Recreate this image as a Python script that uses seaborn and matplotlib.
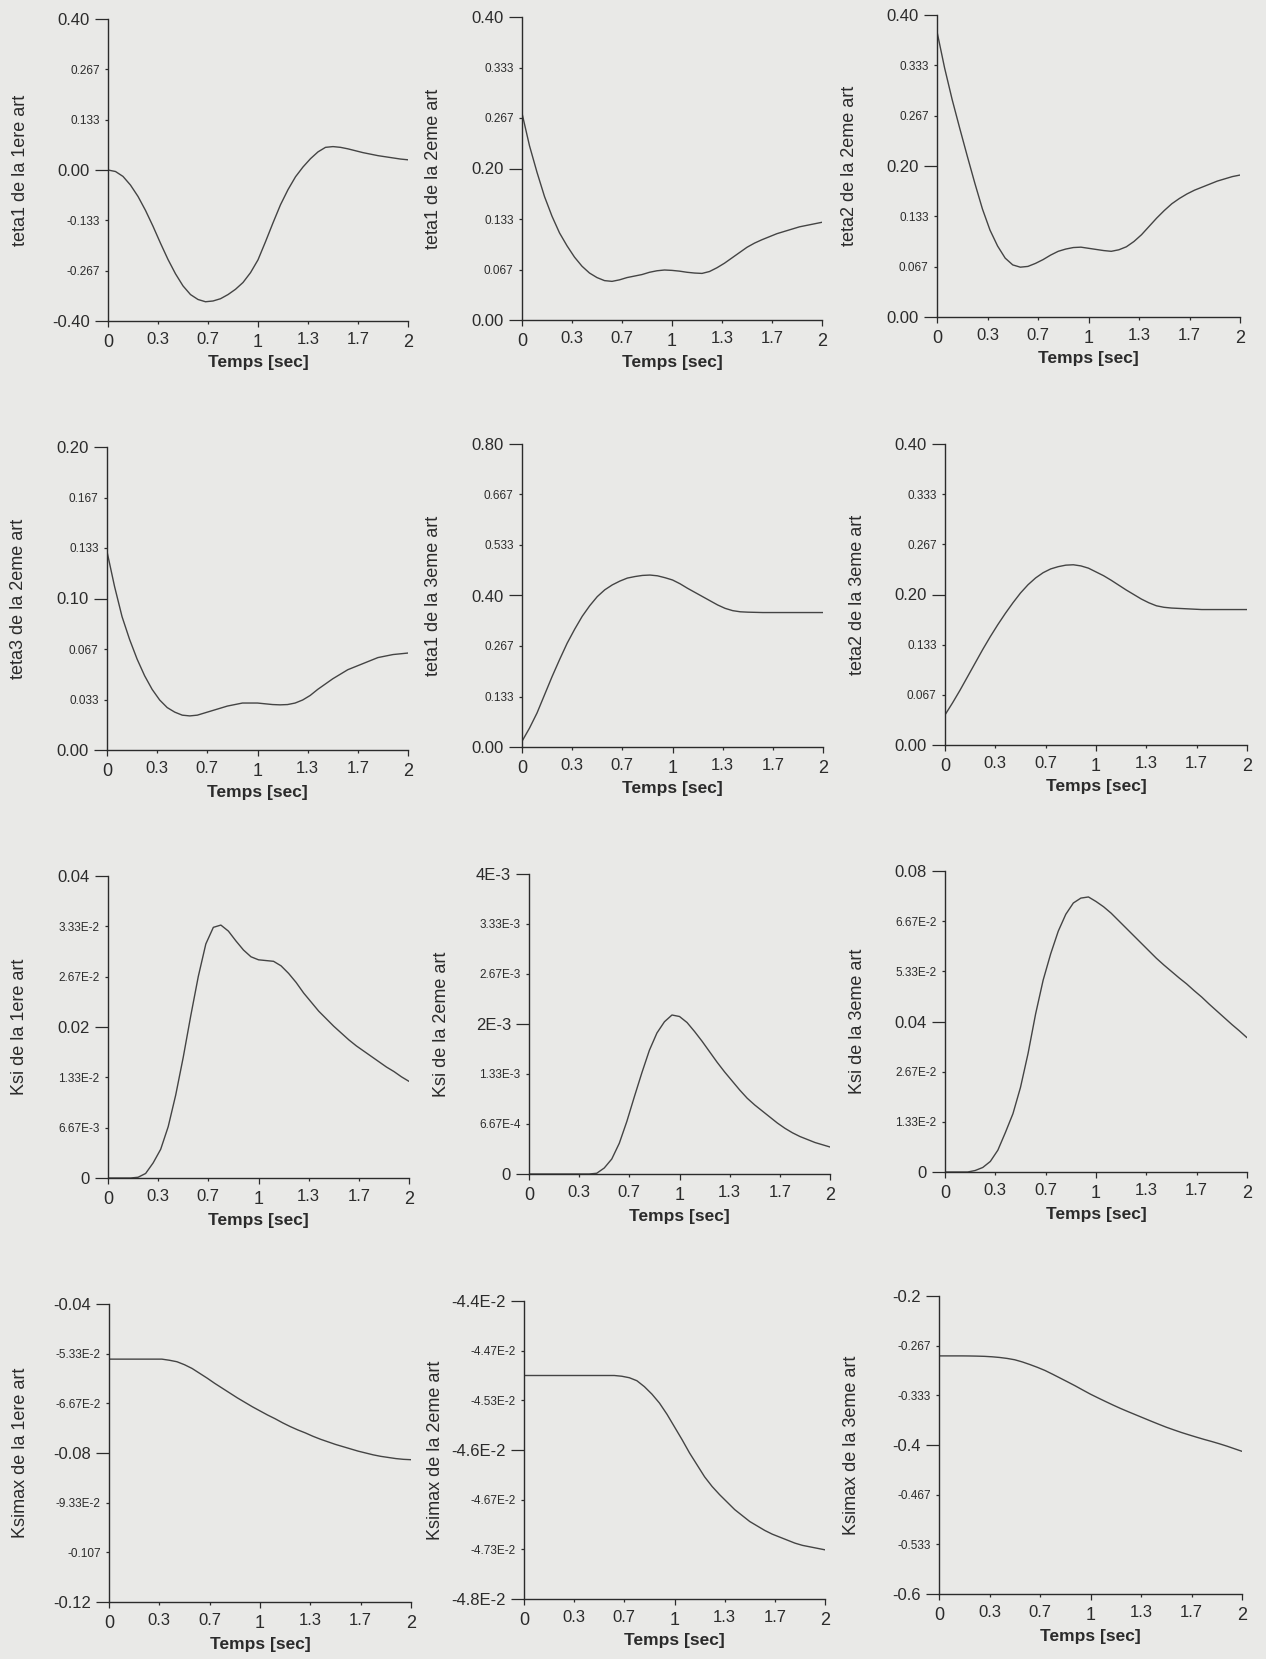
import numpy as np
import matplotlib
matplotlib.use('Agg')
import matplotlib.pyplot as plt
import seaborn as sns

# time axis (sec), curves read every 0.05 s
time = [0.00, 0.05, 0.10, 0.15, 0.20, 0.25, 0.30, 0.35, 0.40, 0.45,
        0.50, 0.55, 0.60, 0.65, 0.70, 0.75, 0.80, 0.85, 0.90, 0.95,
        1.00, 1.05, 1.10, 1.15, 1.20, 1.25, 1.30, 1.35, 1.40, 1.45,
        1.50, 1.55, 1.60, 1.65, 1.70, 1.75, 1.80, 1.85, 1.90, 1.95, 2.00]

# curves
teta1_1 = [0.0, -0.004, -0.017, -0.040, -0.070, -0.107, -0.149, -0.194, -0.237, -0.275,
           -0.307, -0.330, -0.343, -0.349, -0.347, -0.341, -0.330, -0.316, -0.298, -0.272,
           -0.238, -0.190, -0.140, -0.092, -0.052, -0.018, 0.008, 0.030, 0.048, 0.060,
           0.062, 0.060, 0.056, 0.051, 0.046, 0.042, 0.038, 0.035, 0.032, 0.029, 0.027]
teta1_2 = [0.273, 0.230, 0.195, 0.163, 0.137, 0.115, 0.098, 0.083, 0.071, 0.062,
           0.056, 0.052, 0.051, 0.053, 0.056, 0.058, 0.060, 0.063, 0.065, 0.066,
           0.0655, 0.0645, 0.063, 0.062, 0.0615, 0.064, 0.069, 0.075, 0.082, 0.089,
           0.096, 0.1015, 0.106, 0.110, 0.114, 0.117, 0.120, 0.123, 0.125, 0.127, 0.129]
teta2_2 = [0.378, 0.330, 0.288, 0.250, 0.213, 0.177, 0.143, 0.115, 0.094, 0.078,
           0.069, 0.066, 0.067, 0.071, 0.076, 0.082, 0.087, 0.090, 0.092, 0.0925,
           0.091, 0.0895, 0.088, 0.087, 0.089, 0.093, 0.100, 0.109, 0.120, 0.131,
           0.141, 0.150, 0.157, 0.163, 0.168, 0.172, 0.176, 0.180, 0.183, 0.186, 0.188]
teta3_2 = [0.131, 0.108, 0.088, 0.073, 0.060, 0.049, 0.040, 0.033, 0.028, 0.025,
           0.023, 0.0225, 0.023, 0.0245, 0.026, 0.0275, 0.029, 0.030, 0.031, 0.031,
           0.031, 0.0305, 0.030, 0.0298, 0.030, 0.031, 0.033, 0.036, 0.040, 0.0435,
           0.047, 0.050, 0.053, 0.055, 0.057, 0.059, 0.061, 0.062, 0.063, 0.0635, 0.064]
teta1_3 = [0.015, 0.050, 0.090, 0.138, 0.186, 0.231, 0.274, 0.311, 0.345, 0.373,
           0.397, 0.415, 0.428, 0.438, 0.446, 0.450, 0.453, 0.454, 0.452, 0.447,
           0.441, 0.431, 0.419, 0.408, 0.397, 0.386, 0.375, 0.366, 0.360, 0.357,
           0.356, 0.3555, 0.355, 0.355, 0.355, 0.355, 0.355, 0.355, 0.355, 0.355, 0.355]
teta2_3 = [0.040, 0.056, 0.073, 0.091, 0.109, 0.127, 0.144, 0.160, 0.175, 0.189,
           0.202, 0.213, 0.222, 0.229, 0.234, 0.237, 0.239, 0.2395, 0.238, 0.235,
           0.230, 0.225, 0.219, 0.2125, 0.206, 0.200, 0.194, 0.189, 0.185, 0.183,
           0.182, 0.1815, 0.181, 0.1805, 0.180, 0.180, 0.180, 0.180, 0.180, 0.180, 0.180]
ksi_1 = [0.0, 0.0, 0.0, 0.0, 0.0001, 0.0006, 0.0020, 0.0038, 0.0068, 0.0110,
         0.0160, 0.0215, 0.0267, 0.0310, 0.0332, 0.0335, 0.0327, 0.0314, 0.0302, 0.0293,
         0.0289, 0.0288, 0.0287, 0.0281, 0.0271, 0.0259, 0.0245, 0.0233, 0.0221, 0.0211,
         0.0201, 0.0192, 0.0183, 0.0175, 0.0168, 0.0161, 0.0154, 0.0147, 0.0141, 0.0134, 0.0128]
ksi_2 = [0.0, 0.0, 0.0, 0.0, 0.0, 0.0, 0.0, 0.0, 0.0, 0.00001,
         0.00008, 0.00020, 0.00041, 0.00070, 0.00103, 0.00135, 0.00165, 0.00188, 0.00203, 0.00212,
         0.00210, 0.00202, 0.00190, 0.00177, 0.00163, 0.00149, 0.00136, 0.00124, 0.00112, 0.00101,
         0.00092, 0.00084, 0.00076, 0.00068, 0.00061, 0.00055, 0.00050, 0.00046, 0.00042, 0.00039, 0.00036]
ksi_3 = [0.0, 0.0, 0.0, 0.0, 0.0004, 0.0012, 0.0028, 0.0058, 0.0105, 0.0155,
         0.0225, 0.0315, 0.0420, 0.0510, 0.0580, 0.0640, 0.0685, 0.0715, 0.0728, 0.0731,
         0.0719, 0.0705, 0.0688, 0.0668, 0.0648, 0.0628, 0.0608, 0.0588, 0.0568, 0.0550,
         0.0533, 0.0516, 0.0500, 0.0482, 0.0465, 0.0446, 0.0428, 0.0410, 0.0392, 0.0375, 0.0357]
ksimax_1 = [-0.0548, -0.0548, -0.0548, -0.0548, -0.0548, -0.0548, -0.0548, -0.0548, -0.0551, -0.0555,
            -0.0563, -0.0573, -0.0586, -0.0599, -0.0613, -0.0626, -0.0639, -0.0652, -0.0664, -0.0676,
            -0.0687, -0.0698, -0.0708, -0.0719, -0.0729, -0.0738, -0.0746, -0.0755, -0.0763, -0.0770,
            -0.0777, -0.0783, -0.0789, -0.0795, -0.0800, -0.0805, -0.0809, -0.0812, -0.0815, -0.0817, -0.0818]
ksimax_2 = [-0.04500, -0.04500, -0.04500, -0.04500, -0.04500, -0.04500, -0.04500, -0.04500, -0.04500, -0.04500,
            -0.04500, -0.04500, -0.04500, -0.04501, -0.04503, -0.04507, -0.04515, -0.04525, -0.04537, -0.04552,
            -0.04569, -0.04586, -0.04604, -0.04620, -0.04636, -0.04649, -0.04660, -0.04670, -0.04680, -0.04688,
            -0.04696, -0.04702, -0.04708, -0.04713, -0.04717, -0.04721, -0.04725, -0.04728, -0.04730, -0.04732, -0.04734]
ksimax_3 = [-0.2804, -0.2804, -0.2804, -0.2804, -0.2805, -0.2807, -0.2810, -0.2816, -0.2825, -0.2838,
            -0.2856, -0.2885, -0.2920, -0.2958, -0.3000, -0.3050, -0.3102, -0.3154, -0.3207, -0.3263,
            -0.3318, -0.3368, -0.3417, -0.3465, -0.3511, -0.3554, -0.3596, -0.3638, -0.3680, -0.3721,
            -0.3761, -0.3797, -0.3832, -0.3864, -0.3895, -0.3925, -0.3953, -0.3983, -0.4015, -0.4050, -0.4085]

series = [teta1_1, teta1_2, teta2_2,
          teta3_2, teta1_3, teta2_3,
          ksi_1, ksi_2, ksi_3,
          ksimax_1, ksimax_2, ksimax_3]

ylabels = ['teta1 de la 1ere art', 'teta1 de la 2eme art', 'teta2 de la 2eme art',
           'teta3 de la 2eme art', 'teta1 de la 3eme art', 'teta2 de la 3eme art',
           'Ksi de la 1ere art', 'Ksi de la 2eme art', 'Ksi de la 3eme art',
           'Ksimax de la 1ere art', 'Ksimax de la 2eme art', 'Ksimax de la 3eme art']

ylims = [(-0.40, 0.40), (0.0, 0.40), (0.0, 0.40),
         (0.0, 0.20), (0.0, 0.80), (0.0, 0.40),
         (0.0, 0.04), (0.0, 0.004), (0.0, 0.08),
         (-0.12, -0.04), (-0.048, -0.044), (-0.6, -0.2)]

yticklabels = [
    ['-0.40', '-0.267', '-0.133', '0.00', '0.133', '0.267', '0.40'],
    ['0.00', '0.067', '0.133', '0.20', '0.267', '0.333', '0.40'],
    ['0.00', '0.067', '0.133', '0.20', '0.267', '0.333', '0.40'],
    ['0.00', '0.033', '0.067', '0.10', '0.133', '0.167', '0.20'],
    ['0.00', '0.133', '0.267', '0.40', '0.533', '0.667', '0.80'],
    ['0.00', '0.067', '0.133', '0.20', '0.267', '0.333', '0.40'],
    ['0', '6.67E-3', '1.33E-2', '0.02', '2.67E-2', '3.33E-2', '0.04'],
    ['0', '6.67E-4', '1.33E-3', '2E-3', '2.67E-3', '3.33E-3', '4E-3'],
    ['0', '1.33E-2', '2.67E-2', '0.04', '5.33E-2', '6.67E-2', '0.08'],
    ['-0.12', '-0.107', '-9.33E-2', '-0.08', '-6.67E-2', '-5.33E-2', '-0.04'],
    ['-4.8E-2', '-4.73E-2', '-4.67E-2', '-4.6E-2', '-4.53E-2', '-4.47E-2', '-4.4E-2'],
    ['-0.6', '-0.533', '-0.467', '-0.4', '-0.333', '-0.267', '-0.2'],
]

xmajor_labels = ['0', '1', '2']
xminor_labels = ['0.3', '0.7', '1.3', '1.7']

# axes boxes in pixels: left, right, top, bottom
boxes = [(108, 408, 19, 321), (522, 822, 17, 320), (937, 1240, 15, 317),
         (107, 408, 447, 750), (522, 823, 444, 747), (945, 1247, 444, 745),
         (108, 409, 876, 1178), (529, 830, 874, 1174), (945, 1247, 871, 1172),
         (109, 411, 1304, 1602), (524, 825, 1301, 1599), (939, 1242, 1296, 1594)]

W, H = 1266, 1659
bg = '#e9e9e7'
ink = '#2b2b2b'

sns.set_style('ticks')
plt.rcParams['font.family'] = ['Liberation Sans', 'DejaVu Sans']

fig = plt.figure(figsize=(W / 100, H / 100), dpi=100, facecolor=bg)

for i in range(12):
    l, r, t, b = boxes[i]
    ax = fig.add_axes([l / W, 1 - b / H, (r - l) / W, (b - t) / H])
    ax.set_facecolor(bg)
    sns.lineplot(x=time, y=series[i], ax=ax, color='#444444', linewidth=1.0)

    lo, hi = ylims[i]
    ax.set_xlim(0, 2)
    ax.set_ylim(lo, hi)
    yt = np.linspace(lo, hi, 7)
    labs = yticklabels[i]
    ax.set_yticks(yt[[0, 3, 6]], [labs[0], labs[3], labs[6]])
    ax.set_yticks(yt[[1, 2, 4, 5]], [labs[1], labs[2], labs[4], labs[5]], minor=True)
    ax.set_xticks([0, 1, 2], xmajor_labels)
    ax.set_xticks([1 / 3, 2 / 3, 4 / 3, 5 / 3], xminor_labels, minor=True)

    ax.tick_params(axis='y', which='major', length=9.5, width=0.9, pad=3.5,
                   labelsize=12, colors=ink)
    ax.tick_params(axis='y', which='minor', length=2, width=0.9, pad=4,
                   labelsize=8.5, colors=ink)
    ax.tick_params(axis='x', which='major', length=4, width=0.9, pad=5.5,
                   labelsize=13, colors=ink)
    ax.tick_params(axis='x', which='minor', length=2, width=0.9, pad=6,
                   labelsize=12, colors=ink)

    for side in ['top', 'right']:
        ax.spines[side].set_visible(False)
    for side in ['left', 'bottom']:
        ax.spines[side].set_color(ink)
        ax.spines[side].set_linewidth(1.0)

    w_px = r - l
    h_px = b - t
    ax.set_xlabel('Temps [sec]', fontsize=12.5, fontweight='bold', color=ink, va='center')
    ax.xaxis.set_label_coords(0.5, -42 / h_px)
    ax.set_ylabel(ylabels[i], fontsize=13, color=ink, va='center')
    ax.yaxis.set_label_coords(-88 / w_px, 0.5)

fig.savefig('out.png', dpi=100, facecolor=bg)
